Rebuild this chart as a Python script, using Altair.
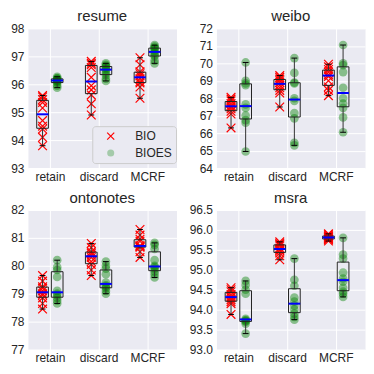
import altair as alt
import pandas as pd

METHODS = ["retain", "discard", "MCRF"]
SCHEMES = ["BIO", "BIOES"]

# resume
RESUME_RETAIN_BIO = [93.8, 94.1, 94.4, 94.5, 94.7, 95.15, 95.35, 95.45, 95.55, 95.6]
RESUME_RETAIN_BIOES = [95.88, 95.95, 96.05, 96.1, 96.12, 96.15, 96.17, 96.2, 96.22, 96.27]
RESUME_DISCARD_BIO = [94.9, 95.3, 95.62, 95.8, 95.95, 96.25, 96.6, 96.7, 96.75, 96.82]
RESUME_DISCARD_BIOES = [96.12, 96.2, 96.33, 96.4, 96.5, 96.55, 96.6, 96.65, 96.7, 96.75]
RESUME_MCRF_BIO = [95.5, 95.9, 96.05, 96.1, 96.2, 96.3, 96.38, 96.45, 96.7, 96.95]
RESUME_MCRF_BIOES = [96.75, 96.85, 97.0, 97.05, 97.12, 97.2, 97.28, 97.3, 97.35, 97.4]

# weibo
WEIBO_RETAIN_BIO = [66.3, 67.1, 67.25, 67.4, 67.5, 67.58, 67.7, 67.85, 67.95, 68.05]
WEIBO_RETAIN_BIOES = [64.95, 66.6, 66.75, 67.0, 67.45, 67.65, 68.75, 68.85, 69.0, 70.05]
WEIBO_DISCARD_BIO = [67.5, 68.3, 68.45, 68.6, 68.75, 68.9, 69.0, 69.1, 69.2, 69.3]
WEIBO_DISCARD_BIOES = [65.3, 65.45, 66.85, 67.15, 67.85, 68.0, 68.85, 68.9, 69.45, 70.3]
WEIBO_MCRF_BIO = [68.15, 68.45, 68.65, 69.0, 69.25, 69.35, 69.5, 69.65, 69.8, 69.95]
WEIBO_MCRF_BIOES = [66.05, 66.9, 67.45, 67.7, 68.0, 68.6, 69.5, 69.9, 70.0, 71.05]

# ontonotes
ONTO_RETAIN_BIO = [78.45, 78.65, 78.85, 78.95, 79.0, 79.1, 79.2, 79.25, 79.45, 79.65]
ONTO_RETAIN_BIOES = [78.65, 78.75, 78.85, 78.95, 79.0, 79.1, 79.6, 79.85, 79.95, 80.2]
ONTO_DISCARD_BIO = [79.65, 79.85, 80.05, 80.15, 80.3, 80.38, 80.45, 80.5, 80.65, 80.8]
ONTO_DISCARD_BIOES = [79.0, 79.1, 79.2, 79.25, 79.3, 79.4, 79.7, 79.9, 80.0, 80.15]
ONTO_MCRF_BIO = [80.3, 80.5, 80.66, 80.7, 80.7, 80.72, 80.88, 80.95, 81.1, 81.3]
ONTO_MCRF_BIOES = [79.58, 79.7, 79.8, 79.9, 79.95, 80.0, 80.2, 80.6, 80.75, 80.82]

# msra
MSRA_RETAIN_BIO = [93.88, 94.15, 94.2, 94.25, 94.3, 94.33, 94.38, 94.45, 94.5, 94.55]
MSRA_RETAIN_BIOES = [93.4, 93.65, 93.7, 93.72, 93.74, 93.77, 94.4, 94.5, 94.62, 94.72]
MSRA_DISCARD_BIO = [95.25, 95.35, 95.42, 95.48, 95.5, 95.54, 95.6, 95.63, 95.66, 95.7]
MSRA_DISCARD_BIOES = [93.75, 93.82, 93.9, 94.0, 94.1, 94.2, 94.3, 94.6, 94.75, 95.28]
MSRA_MCRF_BIO = [95.72, 95.75, 95.77, 95.78, 95.8, 95.82, 95.83, 95.85, 95.88, 95.9]
MSRA_MCRF_BIOES = [94.32, 94.4, 94.45, 94.55, 94.7, 94.78, 94.93, 95.28, 95.38, 95.8]

RESUME_TICKS = [93, 94, 95, 96, 97, 98]
WEIBO_TICKS = [64, 65, 66, 67, 68, 69, 70, 71, 72]
ONTO_TICKS = [77, 78, 79, 80, 81, 82]
MSRA_TICKS = [93.0, 93.5, 94.0, 94.5, 95.0, 95.5, 96.0, 96.5]


def make_df(groups):
    rows = []
    for (method, scheme), vals in groups.items():
        for v in vals:
            rows.append({"method": method, "scheme": scheme, "value": v})
    return pd.DataFrame(rows)


resume_df = make_df({
    ("retain", "BIO"): RESUME_RETAIN_BIO, ("retain", "BIOES"): RESUME_RETAIN_BIOES,
    ("discard", "BIO"): RESUME_DISCARD_BIO, ("discard", "BIOES"): RESUME_DISCARD_BIOES,
    ("MCRF", "BIO"): RESUME_MCRF_BIO, ("MCRF", "BIOES"): RESUME_MCRF_BIOES,
})
weibo_df = make_df({
    ("retain", "BIO"): WEIBO_RETAIN_BIO, ("retain", "BIOES"): WEIBO_RETAIN_BIOES,
    ("discard", "BIO"): WEIBO_DISCARD_BIO, ("discard", "BIOES"): WEIBO_DISCARD_BIOES,
    ("MCRF", "BIO"): WEIBO_MCRF_BIO, ("MCRF", "BIOES"): WEIBO_MCRF_BIOES,
})
onto_df = make_df({
    ("retain", "BIO"): ONTO_RETAIN_BIO, ("retain", "BIOES"): ONTO_RETAIN_BIOES,
    ("discard", "BIO"): ONTO_DISCARD_BIO, ("discard", "BIOES"): ONTO_DISCARD_BIOES,
    ("MCRF", "BIO"): ONTO_MCRF_BIO, ("MCRF", "BIOES"): ONTO_MCRF_BIOES,
})
msra_df = make_df({
    ("retain", "BIO"): MSRA_RETAIN_BIO, ("retain", "BIOES"): MSRA_RETAIN_BIOES,
    ("discard", "BIO"): MSRA_DISCARD_BIO, ("discard", "BIOES"): MSRA_DISCARD_BIOES,
    ("MCRF", "BIO"): MSRA_MCRF_BIO, ("MCRF", "BIOES"): MSRA_MCRF_BIOES,
})

X_SHAPE = "M-1,-1L1,1M-1,1L1,-1"
FONT = "Liberation Sans"
TEXT = "#262626"
POS_EXPR = ("indexof(['retain','discard','MCRF'], datum.method) + 1 + "
            "(datum.scheme == 'BIO' ? -0.15 : 0.15)")


def panel(title, df, ydomain, yticks, yfmt, extent, show_legend):
    x_scale = alt.Scale(domain=[0.55, 3.6], nice=False, zero=False)
    x_axis = alt.Axis(values=[1, 2, 3], title=None, grid=True,
                      labelExpr="['','retain','discard','MCRF'][datum.value]",
                      labelPadding=3)
    y_scale = alt.Scale(domain=ydomain, nice=False, zero=False)
    y_axis = alt.Axis(values=yticks, format=yfmt, title=None, grid=True,
                      labelPadding=4, minExtent=extent, maxExtent=extent)

    def enc_kwargs():
        if show_legend:
            return {"legend": alt.Legend(title=None)}
        return {"legend": None}

    base = alt.Chart(df)
    points = base.transform_calculate(pos=POS_EXPR).mark_point(
        size=76, strokeWidth=1.2
    ).encode(
        x=alt.X("pos:Q", scale=x_scale, axis=x_axis),
        y=alt.Y("value:Q", scale=y_scale, axis=y_axis),
        fill=alt.Fill("scheme:N", scale=alt.Scale(domain=SCHEMES, range=["transparent", "#008000"]), **enc_kwargs()),
        stroke=alt.Stroke("scheme:N", scale=alt.Scale(domain=SCHEMES, range=["#ff0000", "transparent"]), **enc_kwargs()),
        shape=alt.Shape("scheme:N", scale=alt.Scale(domain=SCHEMES, range=[X_SHAPE, "circle"]), **enc_kwargs()),
        opacity=alt.Opacity("scheme:N", scale=alt.Scale(domain=SCHEMES, range=[1.0, 0.42]), **enc_kwargs()),
    )

    stats = base.transform_aggregate(
        q1="q1(value)", q3="q3(value)", med="median(value)",
        lo="min(value)", hi="max(value)", groupby=["method", "scheme"]
    ).transform_calculate(
        pos=POS_EXPR
    ).transform_calculate(
        left="datum.pos - 0.12", right="datum.pos + 0.12",
        cl="datum.pos - 0.06", cr="datum.pos + 0.06",
    )

    whisk_hi = stats.mark_rule(color="#333333", strokeWidth=1).encode(
        x=alt.X("pos:Q", scale=x_scale, axis=x_axis),
        y=alt.Y("q3:Q", scale=y_scale, axis=y_axis), y2="hi:Q")
    whisk_lo = stats.mark_rule(color="#333333", strokeWidth=1).encode(
        x=alt.X("pos:Q", scale=x_scale, axis=x_axis),
        y=alt.Y("lo:Q", scale=y_scale, axis=y_axis), y2="q1:Q")
    cap_hi = stats.mark_rule(color="#000000", strokeWidth=1).encode(
        x=alt.X("cl:Q", scale=x_scale, axis=x_axis), x2="cr:Q",
        y=alt.Y("hi:Q", scale=y_scale, axis=y_axis))
    cap_lo = stats.mark_rule(color="#000000", strokeWidth=1).encode(
        x=alt.X("cl:Q", scale=x_scale, axis=x_axis), x2="cr:Q",
        y=alt.Y("lo:Q", scale=y_scale, axis=y_axis))
    box = stats.mark_rect(fillOpacity=0, stroke="#222222", strokeWidth=1).encode(
        x=alt.X("left:Q", scale=x_scale, axis=x_axis), x2="right:Q",
        y=alt.Y("q1:Q", scale=y_scale, axis=y_axis), y2="q3:Q")
    med = stats.mark_rule(color="#0000ff", strokeWidth=2).encode(
        x=alt.X("left:Q", scale=x_scale, axis=x_axis), x2="right:Q",
        y=alt.Y("med:Q", scale=y_scale, axis=y_axis))

    return alt.layer(points, whisk_hi, whisk_lo, box, cap_hi, cap_lo, med).properties(
        width=149, height=140,
        title=alt.TitleParams(title, fontSize=15, font=FONT, fontWeight="normal",
                              color=TEXT, offset=-2, anchor="middle"),
    )


INDEP = dict(fill="independent", stroke="independent", shape="independent",
             opacity="independent")

p1 = panel("resume", resume_df, [93, 98], RESUME_TICKS, "d", 19, True)
p2 = panel("weibo", weibo_df, [64, 72], WEIBO_TICKS, "d", 27, False)
p3 = panel("ontonotes", onto_df, [77, 82], ONTO_TICKS, "d", 19, False)
p4 = panel("msra", msra_df, [93, 96.5], MSRA_TICKS, ".1f", 27, False)

row1 = alt.hconcat(p1, p2, spacing=11).resolve_scale(**INDEP)
row2 = alt.hconcat(p3, p4, spacing=11).resolve_scale(**INDEP)

chart = alt.vconcat(row1, row2, spacing=7).resolve_scale(**INDEP).properties(
    padding=0
).configure_view(
    fill="#EAEAF2", stroke="transparent"
).configure_axis(
    domain=False, ticks=False, tickSize=0, gridColor="#ffffff", gridWidth=1,
    labelFont=FONT, labelFontSize=12, labelColor=TEXT,
).configure_legend(
    orient="none", legendX=64.5, legendY=98, padding=4, symbolOffset=8.5,
    labelOffset=18.5, labelFont=FONT, labelFontSize=12, labelColor=TEXT,
    symbolSize=50, rowPadding=5, fillColor="#EAEAF2", strokeColor="#cccccc",
    cornerRadius=3, symbolStrokeWidth=1.2,
)

chart.save("out.html", embed_options={"renderer": "svg", "actions": False})
